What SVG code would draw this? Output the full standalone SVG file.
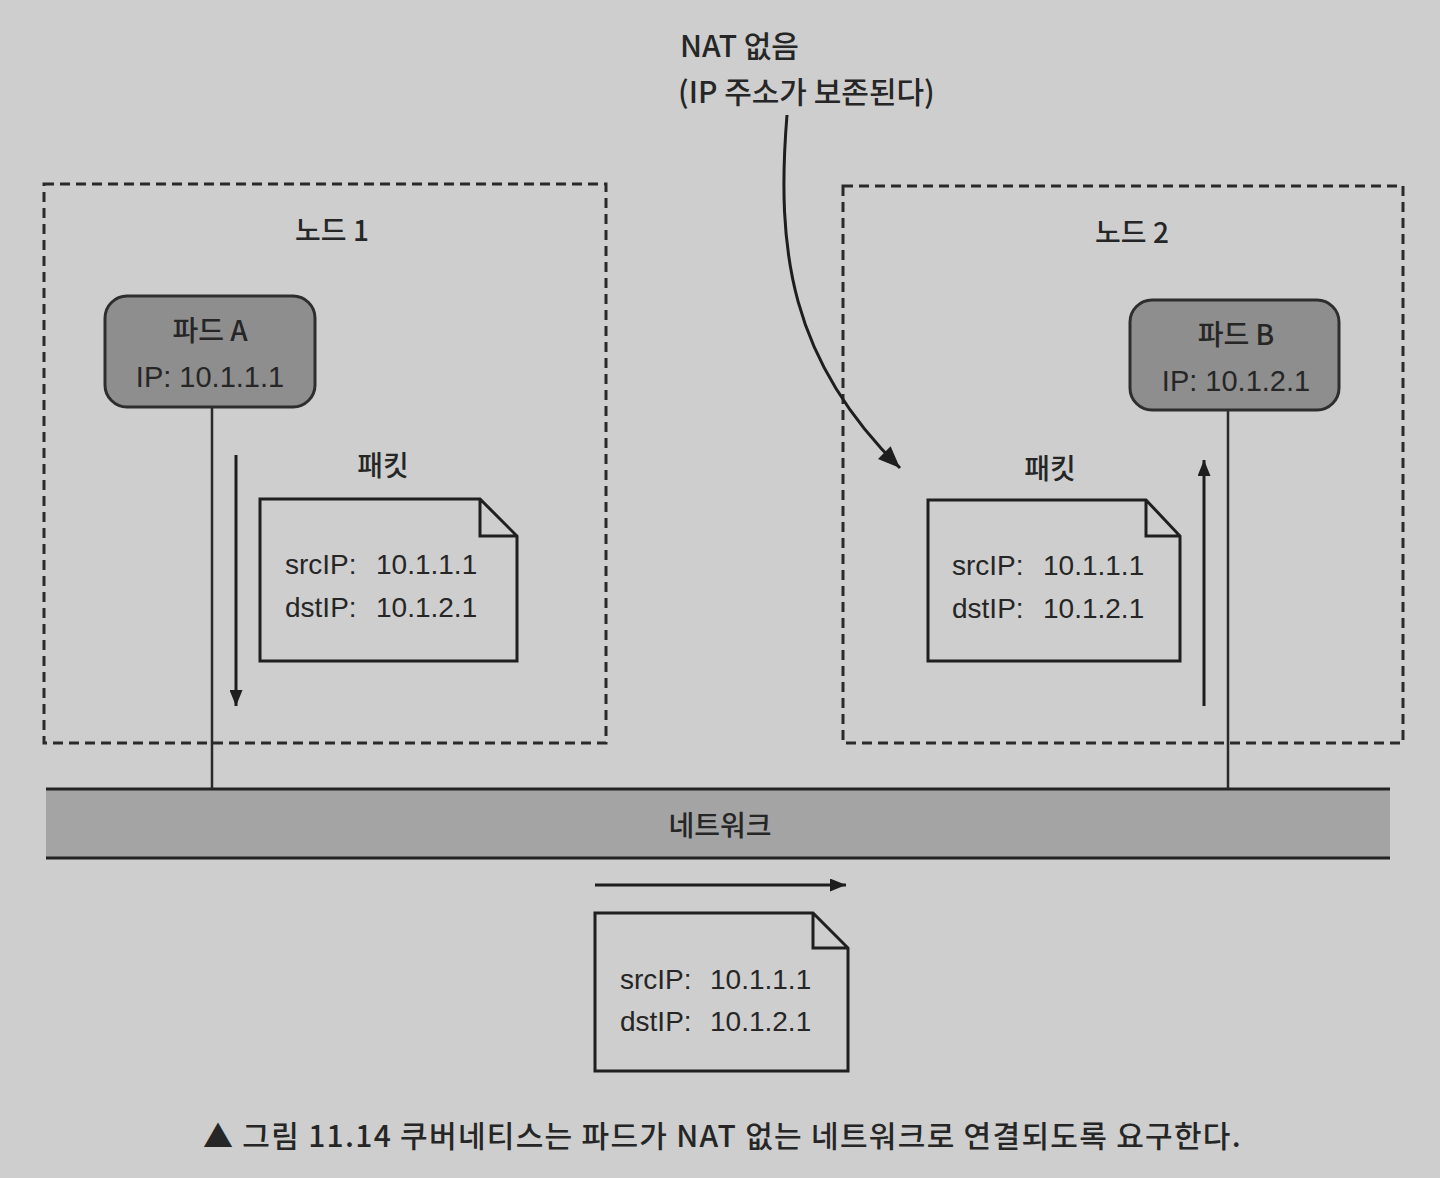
<svg xmlns="http://www.w3.org/2000/svg" width="1440" height="1178" viewBox="0 0 1440 1178">
  <defs>
    <marker id="tri" viewBox="0 0 10 10" refX="10" refY="5" markerWidth="16" markerHeight="13" markerUnits="userSpaceOnUse" orient="auto" preserveAspectRatio="none">
      <path d="M0,0 L10,5 L0,10 z" fill="#1e1e1e"/>
    </marker>
    <marker id="triBig" viewBox="0 0 10 10" refX="10" refY="5" markerWidth="22" markerHeight="18" markerUnits="userSpaceOnUse" orient="auto" preserveAspectRatio="none">
      <path d="M0,0 L10,5 L0,10 z" fill="#1e1e1e"/>
    </marker>
    <style>
      .t { font-family: "Liberation Sans", "Noto Sans CJK KR", sans-serif; fill: #262626; }
      .k { font-family: "Noto Sans CJK KR", "Liberation Sans", sans-serif; fill: #262626; font-weight: 500; }
      .node { fill: none; stroke: #2a2a2a; stroke-width: 3; stroke-dasharray: 10 6; }
      .pod { fill: #8e8e8e; stroke: #2e2e2e; stroke-width: 3; }
      .doc { fill: none; stroke: #1f1f1f; stroke-width: 3; }
      .wire { fill: none; stroke: #2a2a2a; stroke-width: 2.5; }
      .arr { fill: none; stroke: #1e1e1e; stroke-width: 3; }
    </style>
  </defs>
  <rect x="0" y="0" width="1440" height="1178" fill="#cecece"/>

  <g id="network">
    <rect x="46" y="789" width="1344" height="69" fill="#a4a4a4"/>
    <line x1="46" y1="789" x2="1390" y2="789" stroke="#222" stroke-width="3"/>
    <line x1="46" y1="858" x2="1390" y2="858" stroke="#222" stroke-width="3"/>
    <text class="k" x="720" y="836" font-size="28" text-anchor="middle">네트워크</text>
  </g>

  <g id="node1">
    <rect class="node" x="44" y="184" width="562" height="559"/>
    <text class="k" x="332" y="241" font-size="28" text-anchor="middle">노드 1</text>
  </g>

  <g id="node2">
    <rect class="node" x="843" y="186" width="560" height="557"/>
    <text class="k" x="1132" y="243" font-size="28" text-anchor="middle">노드 2</text>
  </g>

  <g id="connectors">
    <line class="wire" x1="212" y1="407" x2="212" y2="789"/>
    <line class="wire" x1="1228" y1="410" x2="1228" y2="789"/>
    <line class="arr" x1="236" y1="455" x2="236" y2="706" marker-end="url(#tri)"/>
    <line class="arr" x1="1204" y1="706" x2="1204" y2="460" marker-end="url(#tri)"/>
    <line class="arr" x1="595" y1="885" x2="846" y2="885" marker-end="url(#tri)"/>
    <path class="arr" d="M787,115 C776,250 790,360 900,468" stroke-width="2.5" marker-end="url(#triBig)"/>
  </g>

  <g id="podA">
    <rect class="pod" x="105" y="296" width="210" height="111" rx="22"/>
    <text class="k" x="210" y="341" font-size="28" text-anchor="middle">파드 A</text>
    <text class="t" x="210" y="387" font-size="29" text-anchor="middle">IP: 10.1.1.1</text>
  </g>

  <g id="podB">
    <rect class="pod" x="1130" y="300" width="209" height="110" rx="22"/>
    <text class="k" x="1236" y="345" font-size="28" text-anchor="middle">파드 B</text>
    <text class="t" x="1236" y="391" font-size="29" text-anchor="middle">IP: 10.1.2.1</text>
  </g>

  <g id="packet1">
    <text class="k" x="383" y="476" font-size="28" text-anchor="middle">패킷</text>
    <path class="doc" d="M260,499 H480 L517,536 V661 H260 Z M480,499 V536 H517"/>
    <text class="t" x="285" y="574" font-size="28">srcIP:<tspan x="376">10.1.1.1</tspan></text>
    <text class="t" x="285" y="617" font-size="28">dstIP:<tspan x="376">10.1.2.1</tspan></text>
  </g>

  <g id="packet2">
    <text class="k" x="1050" y="479" font-size="28" text-anchor="middle">패킷</text>
    <path class="doc" d="M928,500 H1146 L1180,536 V661 H928 Z M1146,500 V536 H1180"/>
    <text class="t" x="952" y="575" font-size="28">srcIP:<tspan x="1043">10.1.1.1</tspan></text>
    <text class="t" x="952" y="618" font-size="28">dstIP:<tspan x="1043">10.1.2.1</tspan></text>
  </g>

  <g id="packet3">
    <path class="doc" d="M595,913 H813 L848,948 V1071 H595 Z M813,913 V948 H848"/>
    <text class="t" x="620" y="989" font-size="28">srcIP:<tspan x="710">10.1.1.1</tspan></text>
    <text class="t" x="620" y="1031" font-size="28">dstIP:<tspan x="710">10.1.2.1</tspan></text>
  </g>

  <g id="nat-label">
    <text class="k" x="680" y="57" font-size="30">NAT 없음</text>
    <text class="k" x="678" y="103" font-size="30">(IP 주소가 보존된다)</text>
  </g>

  <g id="caption">
    <text class="k" x="203" y="1147" font-size="30" font-weight="bold" letter-spacing="1.3">▲ 그림 11.14 쿠버네티스는 파드가 NAT 없는 네트워크로 연결되도록 요구한다.</text>
  </g>
</svg>
